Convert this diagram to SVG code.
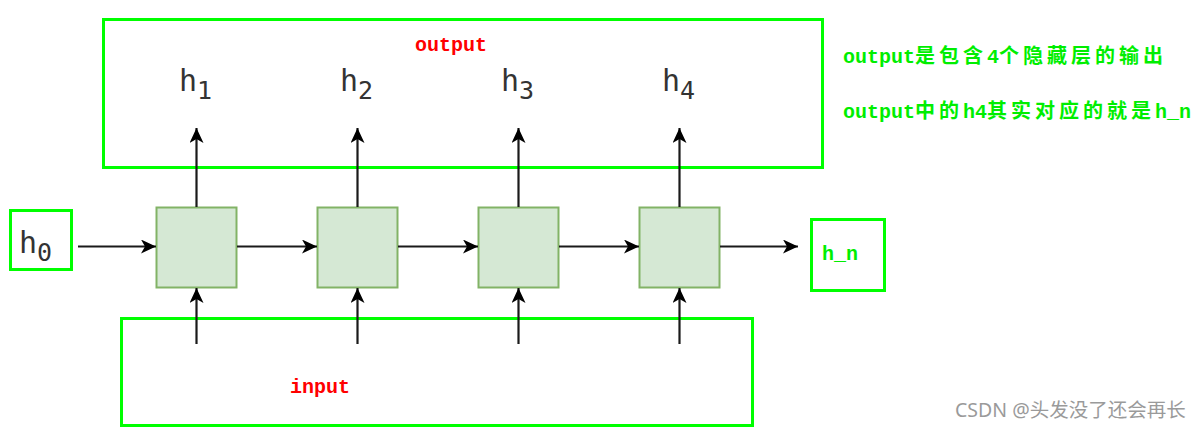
<svg xmlns="http://www.w3.org/2000/svg" width="1202" height="429" viewBox="0 0 1202 429">
<style>
.gbox{fill:none;stroke:#00ff00;stroke-width:3}
.cell{fill:#d5e8d4;stroke:#82b366;stroke-width:2}
.edge{fill:none;stroke:#1a1a1a;stroke-width:2.2}
.h{font-family:"DejaVu Sans Mono",monospace;fill:#333;font-size:30px}
.sub{font-size:25px}
.red{font-family:"Liberation Mono",monospace;font-weight:bold;fill:#ff0000;font-size:20px}
.grn{font-family:"Liberation Mono","Noto Sans CJK SC",monospace;font-weight:bold;fill:#00ee00;font-size:20px}
.cjk{letter-spacing:4px}
.wm{font-family:"Noto Sans","Noto Sans CJK SC",sans-serif;fill:#9a9a9a;font-size:19.5px}
</style>
<defs>
<marker id="arr" viewBox="0 0 15 14" refX="15" refY="7" markerWidth="15" markerHeight="14" orient="auto" markerUnits="userSpaceOnUse">
<path d="M0,0 L15,7 L0,14 L4,7 Z" fill="#000"/>
</marker>
</defs>
<rect width="1202" height="429" fill="#fff"/>
<g id="output">
<rect class="gbox" x="103.5" y="19.5" width="719" height="148"/>
<text class="red" x="415" y="51">output</text>
<text class="h" x="179" y="91">h<tspan class="sub" dy="8">1</tspan></text>
<text class="h" x="340" y="91">h<tspan class="sub" dy="8">2</tspan></text>
<text class="h" x="501" y="91">h<tspan class="sub" dy="8">3</tspan></text>
<text class="h" x="662" y="91">h<tspan class="sub" dy="8">4</tspan></text>
</g>
<g id="input">
<rect class="gbox" x="121.5" y="318.5" width="631" height="107"/>
<text class="red" x="290" y="393">input</text>
</g>
<g id="h0">
<rect class="gbox" x="10.5" y="210.5" width="61" height="59"/>
<text class="h" x="19" y="252.5">h<tspan class="sub" dy="8">0</tspan></text>
</g>
<g id="hn">
<rect class="gbox" x="811.5" y="219.5" width="73" height="71"/>
<text class="grn" x="822" y="260">h_n</text>
</g>
<g id="cell1"><rect class="cell" x="156.5" y="207.5" width="80" height="80"/></g>
<g id="cell2"><rect class="cell" x="317.5" y="207.5" width="80" height="80"/></g>
<g id="cell3"><rect class="cell" x="478.5" y="207.5" width="80" height="80"/></g>
<g id="cell4"><rect class="cell" x="639.5" y="207.5" width="80" height="80"/></g>
<g id="connectors">
<path class="edge" d="M78,246.5 H156" marker-end="url(#arr)"/>
<path class="edge" d="M237,246.5 H317" marker-end="url(#arr)"/>
<path class="edge" d="M398,246.5 H478" marker-end="url(#arr)"/>
<path class="edge" d="M559,246.5 H639" marker-end="url(#arr)"/>
<path class="edge" d="M720,246.5 H798" marker-end="url(#arr)"/>
<path class="edge" d="M196.5,207 V128" marker-end="url(#arr)"/>
<path class="edge" d="M357.5,207 V128" marker-end="url(#arr)"/>
<path class="edge" d="M518.5,207 V128" marker-end="url(#arr)"/>
<path class="edge" d="M679.5,207 V128" marker-end="url(#arr)"/>
<path class="edge" d="M196.5,344 V288" marker-end="url(#arr)"/>
<path class="edge" d="M357.5,344 V288" marker-end="url(#arr)"/>
<path class="edge" d="M518.5,344 V288" marker-end="url(#arr)"/>
<path class="edge" d="M679.5,344 V288" marker-end="url(#arr)"/>
</g>
<g id="notes">
<text class="grn" x="843" y="63">output<tspan class="cjk">是包含</tspan>4<tspan class="cjk">个隐藏层的输出</tspan></text>
<text class="grn" x="843" y="118">output<tspan class="cjk">中的</tspan>h4<tspan class="cjk">其实对应的就是</tspan>h_n</text>
</g>
<text class="wm" x="955" y="417">CSDN @头发没了还会再长</text>
</svg>
